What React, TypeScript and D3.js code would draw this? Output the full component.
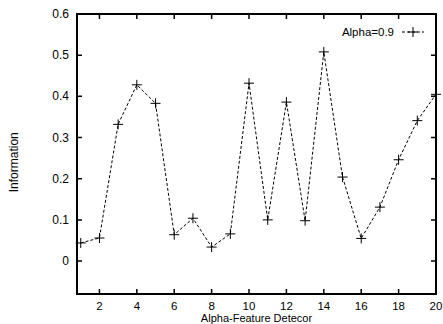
import React, { useEffect, useRef } from 'react';
import * as d3 from 'd3';

const detectors = [1, 2, 3, 4, 5, 6, 7, 8, 9, 10, 11, 12, 13, 14, 15, 16, 17, 18, 19, 20];
const information = [0.044, 0.056, 0.332, 0.428, 0.383, 0.064, 0.104, 0.034, 0.066, 0.432,
    0.100, 0.386, 0.098, 0.508, 0.204, 0.055, 0.131, 0.246, 0.341, 0.405];
const xTicks = [2, 4, 6, 8, 10, 12, 14, 16, 18, 20];
const yTicks = [0, 0.1, 0.2, 0.3, 0.4, 0.5, 0.6];
const seriesName = 'Alpha=0.9';

const font = '"Liberation Sans", Arial, Helvetica, sans-serif';

const App = () => {
    const ref = useRef(null);

    useEffect(() => {
        const margin = { top: 14, right: 7, bottom: 30, left: 77 },
            width = 443 - margin.left - margin.right,
            height = 324 - margin.top - margin.bottom;

        d3.select(ref.current).selectAll('*').remove();

        const svg = d3.select(ref.current)
            .append('g')
            .attr('transform', `translate(${margin.left},${margin.top})`);

        const x = d3.scaleLinear().domain([0.8, 20]).range([0, width]);
        const y = d3.scaleLinear().domain([-0.08, 0.6]).range([height, 0]);

        const tickLen = 5;

        // ticks on all four sides, pointing inward
        svg.selectAll('.xt')
            .data(xTicks)
            .enter().append('path')
            .attr('d', d => `M${x(d)},${height}v${-tickLen}M${x(d)},0v${tickLen}`)
            .attr('stroke', '#000')
            .attr('stroke-width', 1.5);

        svg.selectAll('.yt')
            .data(yTicks)
            .enter().append('path')
            .attr('d', d => `M0,${y(d)}h${tickLen}M${width},${y(d)}h${-tickLen}`)
            .attr('stroke', '#000')
            .attr('stroke-width', 1.5);

        svg.append('rect')
            .attr('width', width)
            .attr('height', height)
            .attr('fill', 'none')
            .attr('stroke', '#000')
            .attr('stroke-width', 2);

        svg.selectAll('.xl')
            .data(xTicks)
            .enter().append('text')
            .attr('x', d => x(d))
            .attr('y', height + 16)
            .attr('text-anchor', 'middle')
            .style('font-family', font)
            .style('font-size', '11.5px')
            .text(d => d);

        svg.selectAll('.yl')
            .data(yTicks)
            .enter().append('text')
            .attr('x', -8)
            .attr('y', d => y(d) + 4)
            .attr('text-anchor', 'end')
            .style('font-family', font)
            .style('font-size', '12px')
            .text(d => d3.format('.1~f')(d));

        svg.append('text')
            .attr('x', x(10.4))
            .attr('y', height + 28)
            .attr('text-anchor', 'middle')
            .style('font-family', font)
            .style('font-size', '11px')
            .text('Alpha-Feature Detecor');

        svg.append('text')
            .attr('transform', `translate(${-59},${y(0.24)}) rotate(-90)`)
            .attr('text-anchor', 'middle')
            .style('font-family', font)
            .style('font-size', '12px')
            .text('Information');

        const line = d3.line()
            .x((d, i) => x(detectors[i]))
            .y(d => y(d));

        svg.append('path')
            .datum(information)
            .attr('d', line)
            .attr('fill', 'none')
            .attr('stroke', '#000')
            .attr('stroke-width', 1)
            .attr('stroke-dasharray', '3,2');

        const plus = (cx, cy) => `M${cx - 5},${cy}h10M${cx},${cy - 5}v10`;

        svg.selectAll('.pt')
            .data(information)
            .enter().append('path')
            .attr('d', (d, i) => plus(x(detectors[i]), y(d)))
            .attr('stroke', '#000')
            .attr('stroke-width', 1);

        // legend
        const lg = svg.append('g').attr('transform', `translate(${width - 10},${18})`);
        lg.append('text')
            .attr('x', -32)
            .attr('y', 4)
            .attr('text-anchor', 'end')
            .style('font-family', font)
            .style('font-size', '11.5px')
            .text(seriesName);
        lg.append('path')
            .attr('d', 'M-24,0h22')
            .attr('stroke', '#000')
            .attr('stroke-width', 1)
            .attr('stroke-dasharray', '3,2');
        lg.append('path')
            .attr('d', plus(-13, 0))
            .attr('stroke', '#000')
            .attr('stroke-width', 1);
    }, []);

    return <svg ref={ref} width={443} height={324} style={{ position: 'absolute', left: 0, top: 0 }} />;
};

export default App;
